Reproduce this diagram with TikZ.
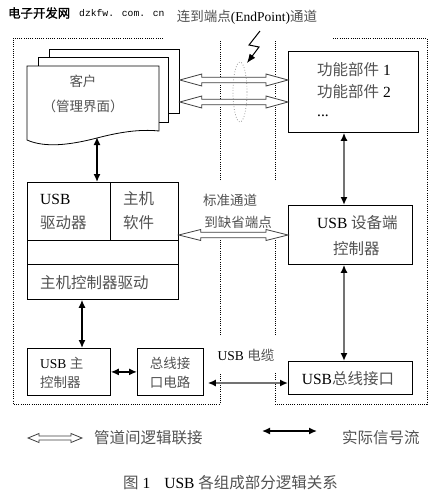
\documentclass[tikz,border=0pt]{standalone}
\usepackage{fontspec}
\setmainfont{Liberation Serif}
\newfontfamily\cjk{Noto Sans CJK SC}
\newfontfamily\cjkbold{Noto Sans CJK SC}[FakeBold=1.2]
\newfontfamily\monofont{Liberation Mono}
\usetikzlibrary{arrows.meta,calc}
\definecolor{zhc}{gray}{0.32}
\definecolor{gline}{gray}{0.45}
\newcommand\zh[1]{{\cjk\color{zhc}#1}}
\tikzset{
  box/.style={draw, line width=0.8pt, fill=white, inner sep=0pt},
  txt/.style={inner sep=0pt, anchor=west, font=\fontsize{15.5}{18}\selectfont},
  txtc/.style={inner sep=0pt, anchor=center, font=\fontsize{15.5}{18}\selectfont},
  small/.style={font=\fontsize{13.5}{16}\selectfont},
  sig/.style={line width=1.4pt, {Latex[length=8pt,width=7pt]}-{Latex[length=8pt,width=7pt]}},
  gsig/.style={line width=1.9pt, draw=gline, {Latex[length=8pt,width=7pt,color=black]}-{Latex[length=8pt,width=7pt,color=black]}},
  region/.style={line width=0.8pt, dash pattern=on 0.8pt off 1.4pt},
  hollow/.style n args={3}{draw=gray!50!black, fill=white, line width=0.8pt,
    to path={let \p1=(\tikztostart), \p2=(\tikztotarget) in
      (\x1,\y1) -- (\x1+#1pt,\y1+#2pt) -- (\x1+#1pt,\y1+#3pt) -- (\x2-#1pt,\y1+#3pt)
      -- (\x2-#1pt,\y1+#2pt) -- (\x2,\y1) -- (\x2-#1pt,\y1-#2pt) -- (\x2-#1pt,\y1-#3pt)
      -- (\x1+#1pt,\y1-#3pt) -- (\x1+#1pt,\y1-#2pt) -- cycle}}
}
\begin{document}
\begin{tikzpicture}[x=1pt,y=-1pt]
\fill[white] (0,0) rectangle (441,499);
\useasboundingbox (0,0) rectangle (441,499);

% watermark
\node[inner sep=0pt, anchor=west, font=\fontsize{12.4}{14}\selectfont] (wm1) at (8,13) {\cjkbold 电子开发网};
\node[inner sep=0pt, anchor=west, font=\fontsize{9.7}{11}\selectfont] (wm2) at (79,13) {\monofont dzkfw. com. cn};

% dotted regions
\draw[region] (163,38) -- (13,38) -- (13,404) -- (220,404) -- (220,373);
\draw[region] (220,335) -- (220,240);
\draw[region] (220,180) -- (220,40);
\draw[region] (333,38) -- (427,38) -- (427,404) -- (275,404) -- (275,373);
\draw[region] (275,335) -- (275,240);
\draw[region] (275,180) -- (275,40);

% client pages
\node[box, minimum width=130pt, minimum height=64pt, anchor=north west] (p3) at (49,49) {};
\node[box, minimum width=130pt, minimum height=65pt, anchor=north west] (p2) at (38,57) {};
\draw[box] (27,66) -- (159,66) -- (159,131)
  .. controls (140,129) and (120,132) .. (97,138)
  .. controls (70,145) and (45,148) .. (27,140) -- cycle;
\coordinate (irp) at (97,137);
\node[txtc, small] (tc1) at (83,81) {\zh{客户}};
\node[txtc, small] (tc2) at (83,106) {\zh{（管理界面）}};

% function box
\node[box, minimum width=130pt, minimum height=81pt, anchor=north west] (fn) at (288,51) {};
\node[txt] (tf1) at (317,70) {\zh{功能部件} 1};
\node[txt] (tf2) at (317,92) {\zh{功能部件} 2};
\node[txt] (tf3) at (317,116) {...};

% endpoint channel label and pipes
\node[txtc, small] (tl) at (247,17) {\zh{连到端点}(EndPoint)\zh{通道}};
\coordinate (h1) at (0,80);
\coordinate (h2) at (0,102);
\draw[hollow={22}{6}{2.8}] (p3.east |- h1) to (fn.west |- h1);
\draw[hollow={22}{6}{2.8}] (p3.east |- h2) to (fn.west |- h2);
\draw[dotted, gray, line width=0.7pt] (240,92) ellipse [x radius=7, y radius=30];
\coordinate (z0) at (260,31);
\draw[line width=1pt, -{Latex[length=9pt,width=7pt]}] (z0) -- (249,45) -- (259,47) -- (247,63);

% host software box
\node[box, minimum width=151pt, minimum height=117pt, anchor=north west] (hs) at (27,182) {};
\coordinate (dv) at (110,0);
\coordinate (l1) at (0,240);
\coordinate (l2) at (0,264);
\draw[line width=0.8pt] (hs.north -| dv) -- (dv |- l1);
\draw[line width=0.8pt] (hs.west |- l1) -- (hs.east |- l1);
\draw[line width=0.8pt] (hs.west |- l2) -- (hs.east |- l2);
\node[txt] (th1) at (40,199) {USB};
\node[txt] (th2) at (40,223) {\zh{驱动器}};
\node[txt] (th3) at (123,199) {\zh{主机}};
\node[txt] (th4) at (123,223) {\zh{软件}};
\node[txt] (th5) at (40,283) {\zh{主机控制器驱动}};
\draw[sig] (irp) -- (hs.north -| irp);

% USB device controller
\node[box, minimum width=124pt, minimum height=59pt, anchor=north west] (dev) at (288,205) {};
\node[txt] (td1) at (317,223) {USB \zh{设备端}};
\node[txt] (td2) at (333,249) {\zh{控制器}};
\coordinate (xr) at (344,0);
\draw[gsig] (fn.south -| xr) -- (dev.north -| xr);

% standard pipe
\node[txtc, small] (ts1) at (230,200) {\zh{标准通道}};
\node[txtc, small] (ts2) at (238,222) {\zh{到缺省端点}};
\coordinate (h3) at (0,235);
\draw[hollow={22}{5.5}{2.8}] (hs.east |- h3) to (dev.west |- h3);

% bottom row
\node[box, minimum width=83pt, minimum height=47pt, anchor=north west] (hc) at (27,348) {};
\node[txt, small] (tk1) at (40,363) {USB \zh{主}};
\node[txt, small] (tk2) at (40,382) {\zh{控制器}};
\node[box, minimum width=66pt, minimum height=47pt, anchor=north west] (bic) at (137,348) {};
\node[txtc, small] (tb1) at (170,363) {\zh{总线接}};
\node[txtc, small] (tb2) at (170,382) {\zh{口电路}};
\node[box, minimum width=124pt, minimum height=33pt, anchor=north west] (bus) at (288,361) {};
\node[txtc] (tu) at (348,379) {USB\zh{总线接口}};
\coordinate (xl) at (82,0);
\draw[sig] (hs.south -| xl) -- (hc.north -| xl);
\draw[sig] (hc) -- (bic);
\draw[gsig] (dev.south -| xr) -- (bus.north -| xr);
\node[txtc, small] (tcab) at (246,355) {USB \zh{电缆}};
\coordinate (cy) at (0,383);
\draw[gsig, shorten <=4pt] (bic.east |- cy) -- (bus.west |- cy);

% legend
\coordinate (la) at (28,438);
\coordinate (lb) at (82,438);
\draw[hollow={11}{4.5}{2}] (la) to (lb);
\node[txt] (tlg1) at (94,438) {\zh{管道间逻辑联接}};
\coordinate (lc) at (262,431);
\coordinate (ld) at (317,431);
\draw[sig] (lc) -- (ld);
\node[txt] (tlg2) at (342,438) {\zh{实际信号流}};

% caption
\node[txt] (cap) at (123,483) {\zh{图} 1\hspace{14pt}USB \zh{各组成部分逻辑关系}};
\end{tikzpicture}
\end{document}
